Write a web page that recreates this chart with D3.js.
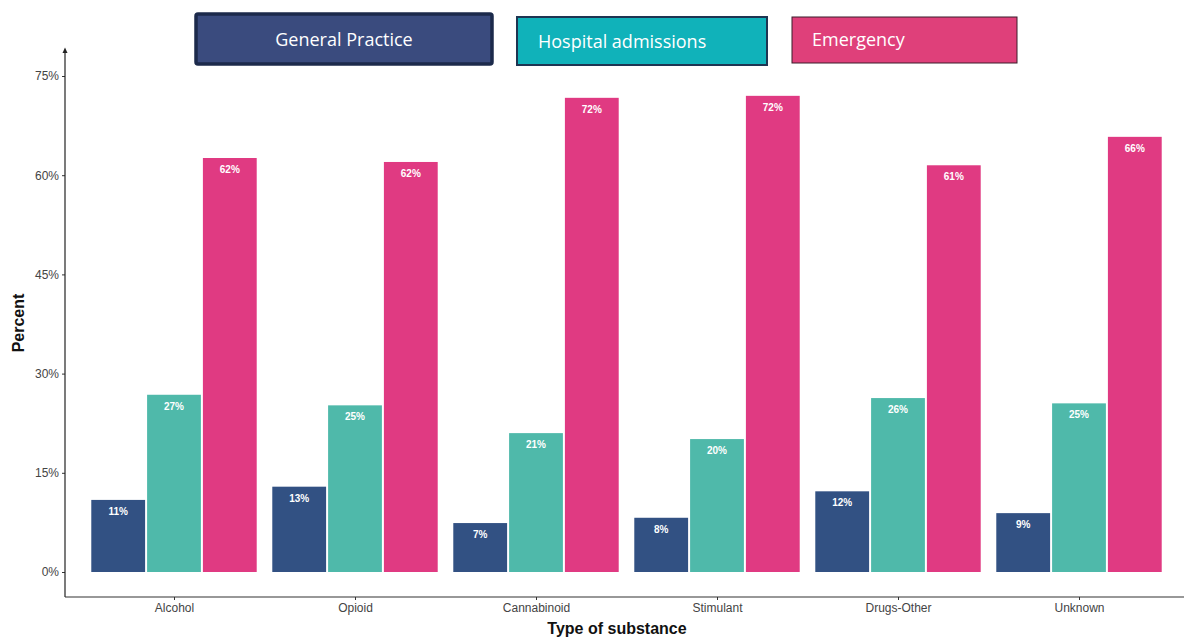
<!DOCTYPE html>
<meta charset="utf-8">
<head>
<style>
body { margin: 0; background: #fff; }
.tick text { font: 12px "Liberation Sans", Arial, sans-serif; fill: #444; }
.axis-title { font: bold 16px "Liberation Sans", Arial, sans-serif; fill: #111; }
.bar-label { font: bold 10px "Liberation Sans", Arial, sans-serif; fill: #fff; }
.legend text { font: 18px "Open Sans", sans-serif; fill: #fff; }
</style>
</head>
<body>
<svg width="1184" height="639"></svg>
<script src="https://d3js.org/d3.v7.min.js"></script>
<script>

var substances = ["Alcohol", "Opioid", "Cannabinoid", "Stimulant", "Drugs-Other", "Unknown"];
var series = ["General Practice", "Hospital admissions", "Emergency"];
var gpValues = [10.9, 12.9, 7.4, 8.2, 12.2, 8.9];
var hospValues = [26.8, 25.2, 21.0, 20.1, 26.3, 25.5];
var emergValues = [62.6, 62.0, 71.7, 72.0, 61.5, 65.8];
var valueLabels = [
  ["11%", "13%", "7%", "8%", "12%", "9%"],
  ["27%", "25%", "21%", "20%", "26%", "25%"],
  ["62%", "62%", "72%", "72%", "61%", "66%"]
];
var yTicks = [0, 15, 30, 45, 60, 75];

var barColors = ["#325183", "#4fb9aa", "#e03a82"];
var legendFill = ["#3a4b7e", "#10b2ba", "#df407a"];
var legendStroke = ["#1c2a4b", "#1e3552", "#3b1d2b"];

var svg = d3.select("svg");

// discrete axis, ggplot style: 0.6 step of expansion each side
var x0 = d3.scalePoint()
    .domain(substances)
    .range([65.4, 1187.6])
    .padding(0.6);
var step = x0.step();
var groupWidth = step * 0.925;

var x1 = d3.scaleBand()
    .domain(series)
    .range([-groupWidth / 2, groupWidth / 2]);

var y = d3.scaleLinear()
    .domain([0, 75])
    .range([572, 76]);

var allValues = [gpValues, hospValues, emergValues];

var rows = substances.map(function(s, i) {
  return series.map(function(k, j) {
    return { sub: s, i: i, key: k, j: j, value: allValues[j][i], label: valueLabels[j][i] };
  });
});

var groups = svg.selectAll(".group")
  .data(rows)
  .enter().append("g")
    .attr("class", "group")
    .attr("transform", function(d, i) { return "translate(" + x0(substances[i]) + ",0)"; });

groups.selectAll("rect")
  .data(function(d) { return d; })
  .enter().append("rect")
    .attr("x", function(d) { return x1(d.key) + 1; })
    .attr("width", x1.bandwidth() - 2)
    .attr("y", function(d) { return y(d.value); })
    .attr("height", function(d) { return y(0) - y(d.value); })
    .attr("fill", function(d) { return barColors[d.j]; });

groups.selectAll(".bar-label")
  .data(function(d) { return d; })
  .enter().append("text")
    .attr("class", "bar-label")
    .attr("text-anchor", "middle")
    .attr("x", function(d) { return x1(d.key) + x1.bandwidth() / 2; })
    .attr("y", function(d) { return y(d.value) + 15; })
    .text(function(d) { return d.label; });

// y axis
var yAxis = svg.append("g")
    .attr("transform", "translate(65,0)")
    .call(d3.axisLeft(y).tickValues(yTicks).tickSize(3).tickFormat(function(d) { return d + "%"; }));
yAxis.select(".domain").remove();
yAxis.selectAll(".tick line").attr("stroke", "#333");

svg.append("line")
    .attr("x1", 65).attr("x2", 65)
    .attr("y1", 50).attr("y2", 597)
    .attr("stroke", "#222").attr("stroke-width", 1.2);
svg.append("path")
    .attr("d", "M62.5,53 L65,47.5 L67.5,53 Z")
    .attr("fill", "#222");

// x axis
var xAxis = svg.append("g")
    .attr("transform", "translate(0,597)")
    .call(d3.axisBottom(x0).tickSize(3).tickPadding(3));
xAxis.select(".domain").remove();
xAxis.selectAll(".tick line").attr("stroke", "#333");
xAxis.append("line")
    .attr("x1", 65).attr("x2", 1187)
    .attr("stroke", "#333").attr("stroke-width", 1.2);

svg.append("text")
    .attr("class", "axis-title")
    .attr("text-anchor", "middle")
    .attr("x", 617).attr("y", 634)
    .text("Type of substance");

svg.append("text")
    .attr("class", "axis-title")
    .attr("text-anchor", "middle")
    .attr("transform", "translate(24,323) rotate(-90)")
    .text("Percent");

// legend boxes
var legendBoxes = [
  { x: 196, y: 14, w: 296, h: 50, sw: 3.5, tx: 344, ty: 46, anchor: "middle" },
  { x: 517, y: 17, w: 250, h: 48, sw: 2, tx: 538, ty: 48, anchor: "start" },
  { x: 792, y: 17, w: 225, h: 46, sw: 1, tx: 812, ty: 46, anchor: "start" }
];

var legend = svg.selectAll(".legend")
  .data(series)
  .enter().append("g")
    .attr("class", "legend");

legend.append("rect")
    .attr("x", function(d, i) { return legendBoxes[i].x; })
    .attr("y", function(d, i) { return legendBoxes[i].y; })
    .attr("width", function(d, i) { return legendBoxes[i].w; })
    .attr("height", function(d, i) { return legendBoxes[i].h; })
    .attr("rx", function(d, i) { return i == 0 ? 2 : 0; })
    .attr("fill", function(d, i) { return legendFill[i]; })
    .attr("stroke", function(d, i) { return legendStroke[i]; })
    .attr("stroke-width", function(d, i) { return legendBoxes[i].sw; });

legend.append("text")
    .attr("x", function(d, i) { return legendBoxes[i].tx; })
    .attr("y", function(d, i) { return legendBoxes[i].ty; })
    .attr("text-anchor", function(d, i) { return legendBoxes[i].anchor; })
    .text(function(d) { return d; });

</script>
</body>
</html>
